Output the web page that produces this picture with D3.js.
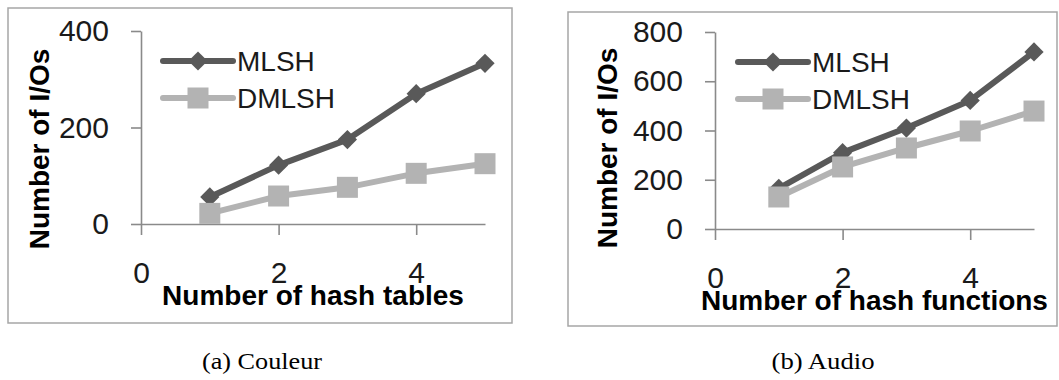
<!DOCTYPE html>
<meta charset="utf-8">
<script src="https://d3js.org/d3.v7.min.js"></script>
<style>
    body { margin: 0; background: #fff; }
    .tick text { font-family: 'Liberation Sans', Arial, sans-serif; font-size: 30px; fill: #1a1a1a; }
    .title { font-family: 'Liberation Sans', Arial, sans-serif; font-size: 28px; font-weight: bold; fill: #000; }
    .legend { font-family: 'Liberation Sans', Arial, sans-serif; font-size: 28px; fill: #1a1a1a; }
    .caption { font-family: 'Liberation Serif', 'Times New Roman', serif; font-size: 24px; fill: #000; }
</style>
<div id="chart"></div>
<script>
    // data
    let xValues = [1, 2, 3, 4, 5];
    let seriesNames = ["MLSH", "DMLSH"];

    let couleurMLSH = [56, 122, 175, 270, 333];
    let couleurDMLSH = [22, 58, 76, 105, 125];
    let couleurXTicks = [0, 2, 4];
    let couleurYTicks = [0, 200, 400];

    let audioMLSH = [165, 310, 410, 522, 719];
    let audioDMLSH = [130, 252, 329, 398, 479];
    let audioXTicks = [0, 2, 4];
    let audioYTicks = [0, 200, 400, 600, 800];

    let colors = ["#595959", "#b3b3b3"];

    let svg = d3.select("#chart")
        .append("svg")
        .attr("width", 1059)
        .attr("height", 380);

    function drawPanel(p) {
        // frame
        svg.append("rect")
            .attr("x", p.box[0]).attr("y", p.box[1])
            .attr("width", p.box[2]).attr("height", p.box[3])
            .attr("fill", "none")
            .attr("stroke", "#a6a6a6")
            .attr("stroke-width", 1.5);

        let x = d3.scaleLinear().domain([0, 5]).range(p.xRange);
        let y = d3.scaleLinear().domain([0, p.yMax]).range(p.yRange);

        let xAxis = svg.append("g")
            .attr("transform", "translate(0," + p.yRange[0] + ")")
            .call(d3.axisBottom(x).tickValues(p.xTicks).tickFormat(d3.format("d"))
                .tickSize(11).tickSizeOuter(0).tickPadding(27));
        let yAxis = svg.append("g")
            .attr("transform", "translate(" + p.xRange[0] + ",0)")
            .call(d3.axisLeft(y).tickValues(p.yTicks).tickFormat(d3.format("d"))
                .tickSize(10).tickSizeOuter(0).tickPadding(22));

        [xAxis, yAxis].forEach(function (a) {
            a.selectAll("path, line").attr("stroke", "#8a8a8a").attr("stroke-width", 1.6);
        });

        // series
        let series = [p.mlsh, p.dmlsh];
        let line = d3.line()
            .x(function (d, i) { return x(xValues[i]); })
            .y(function (d) { return y(d); });

        for (let s = 1; s >= 0; s--) {
            svg.append("path")
                .datum(series[s])
                .attr("fill", "none")
                .attr("stroke", colors[s])
                .attr("stroke-width", 6)
                .attr("stroke-linejoin", "round")
                .attr("d", line);
        }
        for (let s = 0; s < 2; s++) {
            svg.selectAll(null)
                .data(series[s])
                .enter()
                .append("path")
                .attr("d", d3.symbol().type(d3.symbolSquare).size(s === 0 ? 185 : 441))
                .attr("fill", colors[s])
                .attr("transform", function (d, i) {
                    return "translate(" + x(xValues[i]) + "," + y(d) + ")" + (s === 0 ? " rotate(45)" : "");
                });
        }

        // legend
        seriesNames.forEach(function (name, s) {
            let ly = p.legend[1] + s * 37;
            svg.append("line")
                .attr("x1", p.legend[0]).attr("x2", p.legend[0] + 70)
                .attr("y1", ly).attr("y2", ly)
                .attr("stroke", colors[s])
                .attr("stroke-width", 6)
                .attr("stroke-linecap", "round");
            svg.append("path")
                .attr("d", d3.symbol().type(d3.symbolSquare).size(s === 0 ? 185 : 441))
                .attr("fill", colors[s])
                .attr("transform", "translate(" + (p.legend[0] + 35) + "," + ly + ")" + (s === 0 ? " rotate(45)" : ""));
            svg.append("text")
                .attr("class", "legend")
                .attr("x", p.legend[0] + 74)
                .attr("y", ly)
                .attr("dy", "0.36em")
                .text(name);
        });

        // axis titles
        svg.append("text")
            .attr("class", "title")
            .attr("text-anchor", "middle")
            .attr("x", (p.xRange[0] + p.xRange[1]) / 2)
            .attr("y", p.xTitleY)
            .text(p.xTitle);

        svg.append("text")
            .attr("class", "title")
            .attr("text-anchor", "middle")
            .attr("transform", "translate(" + p.yTitle[0] + "," + p.yTitle[1] + ") rotate(-90)")
            .text("Number of I/Os");

        svg.append("text")
            .attr("class", "caption")
            .attr("text-anchor", "middle")
            .attr("x", p.caption[0])
            .attr("y", 369)
            .attr("textLength", p.caption[1])
            .attr("lengthAdjust", "spacingAndGlyphs")
            .text(p.captionText);
    }

    drawPanel({
        box: [8, 8, 504, 315],
        xRange: [141, 485], yRange: [224, 31], yMax: 400,
        xTicks: couleurXTicks, yTicks: couleurYTicks,
        mlsh: couleurMLSH, dmlsh: couleurDMLSH,
        legend: [163, 61],
        xTitle: "Number of hash tables", xTitleY: 305,
        yTitle: [49, 149],
        caption: [262, 120], captionText: "(a) Couleur"
    });

    drawPanel({
        box: [568, 12, 489, 314],
        xRange: [715, 1034], yRange: [229, 32], yMax: 800,
        xTicks: audioXTicks, yTicks: audioYTicks,
        mlsh: audioMLSH, dmlsh: audioDMLSH,
        legend: [738, 62],
        xTitle: "Number of hash functions", xTitleY: 310,
        yTitle: [617, 148],
        caption: [823, 103], captionText: "(b) Audio"
    });
</script>
